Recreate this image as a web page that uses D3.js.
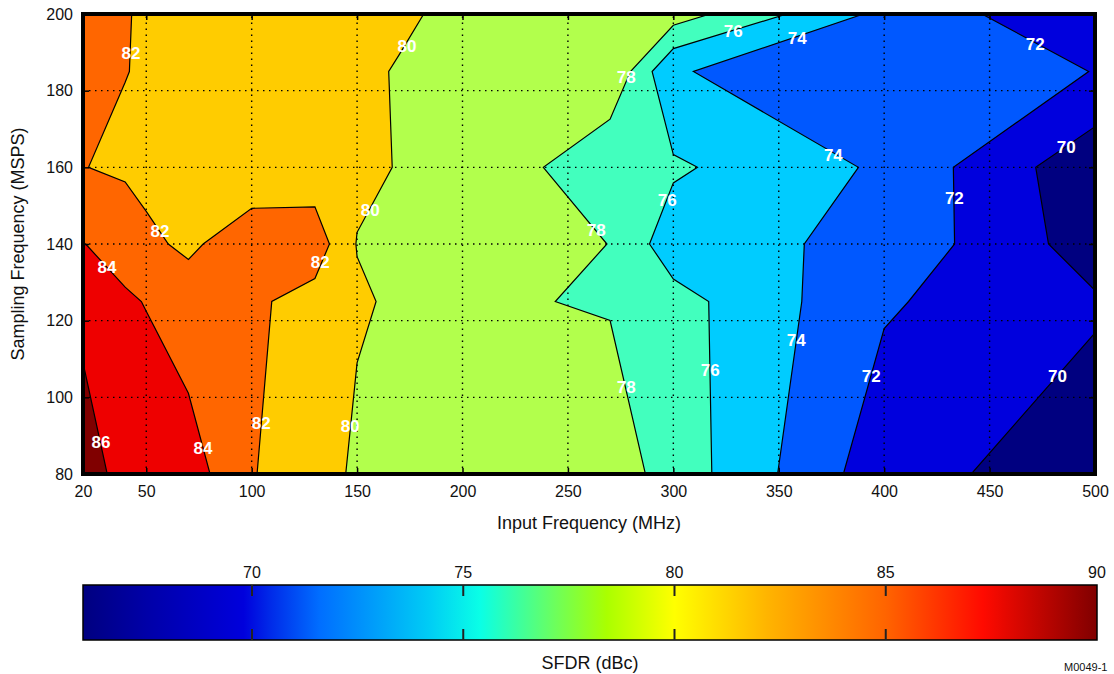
<!DOCTYPE html>
<html>
<head>
<meta charset="UTF-8">
<title>SFDR vs input frequency and sampling frequency</title>
<style>
  body { margin: 0; background: #fff; }
  svg text { font-family: Arial, "Liberation Sans", Helvetica, sans-serif; fill: #111; }
  .clabel { font-size: 17px; font-weight: bold; fill: #fff; text-anchor: middle; }
  .grid line { stroke: #000; stroke-width: 1.4; stroke-dasharray: 1.5 4.5; }
</style>
</head>
<body>
<svg id="chart" width="1114" height="674"></svg>
<script src="https://cdn.jsdelivr.net/npm/d3@7"></script>
<script>
// measurement grid
var inputFreq  = [20, 40, 50, 70, 100, 130, 150, 170, 230, 270, 300, 400, 500];   // MHz
var sampleRate = [80, 125, 140, 160, 185, 200];                                   // MSPS

// SFDR (dBc): one row per sampling rate, one column per input frequency
var sfdr = [
  [87.00, 85.26, 84.50, 85.02, 82.04, 81.57, 79.42, 79.30, 79.20, 79.05, 77.17, 70.76, 68.92], //  80
  [85.45, 84.10, 83.97, 82.84, 82.34, 81.27, 80.32, 79.61, 78.07, 77.87, 76.76, 72.23, 70.24], // 125
  [84.02, 83.70, 82.34, 81.69, 83.02, 83.10, 79.91, 79.70, 79.30, 77.95, 74.82, 73.50, 69.01], // 140
  [82.06, 81.60, 81.54, 81.30, 80.83, 80.83, 80.50, 79.90, 78.50, 76.10, 76.30, 73.68, 68.56], // 160
  [82.80, 82.05, 81.80, 81.20, 81.00, 80.80, 80.30, 79.90, 79.60, 79.88, 74.04, 73.62, 71.95], // 185
  [82.80, 82.30, 81.33, 81.00, 80.90, 80.80, 80.80, 80.24, 79.00, 79.00, 78.96, 73.46, 70.31]  // 200
];

var levels = [70, 72, 74, 76, 78, 80, 82, 84, 86];
var xTicks = [20, 50, 100, 150, 200, 250, 300, 350, 400, 450, 500];
var yTicks = [80, 100, 120, 140, 160, 180, 200];
var cbarDomain = [66, 90];
var cbarTicks = [70, 75, 80, 85, 90];

// contour labels: [MHz, MSPS, level]
var labels = [
  [42.8, 189.8, 82], [173.7, 191.7, 80], [277.7, 183.6, 78], [328.4, 195.6, 76],
  [358.8, 193.7, 74], [471.7, 192.2, 72], [486.4, 165.3, 70], [375.9, 163.2, 74],
  [433.3, 152.0, 72], [297.1, 151.5, 76], [263.4, 143.6, 78], [156.2, 148.9, 80],
  [56.5, 143.4, 82], [132.5, 135.3, 82], [31.4, 134.0, 84], [146.7, 92.5, 80],
  [104.5, 93.3, 82], [76.9, 86.8, 84], [28.5, 88.3, 86], [277.7, 102.7, 78],
  [317.5, 107.1, 76], [358.3, 115.0, 74], [393.9, 105.6, 72], [482.2, 105.6, 70]
];

// colours of the filled bands (below 70, 70-72, ... , above 86)
var bandColors = ["#000080", "#0000DD", "#0058FF", "#00CCFF", "#42FFBE",
                  "#B2FF4C", "#FFCC00", "#FF6600", "#EE0000", "#800000"];
var cbarStops = [[66, "#000080"], [67.5, "#0000A8"], [69.8, "#0000DC"], [70.4, "#0028E8"],
                 [71.6, "#006EFF"], [74.2, "#00CDF5"], [75.4, "#0AFFE6"], [77.2, "#6EFF5A"],
                 [78.4, "#AAFF00"], [80, "#FFFF00"], [82.2, "#FFB400"], [85, "#FF6400"],
                 [87.3, "#FF0A00"], [90, "#800000"]];

var svg = d3.select("#chart");
var x = d3.scaleLinear().domain([20, 500]).range([83, 1095]);
var y = d3.scaleLinear().domain([80, 200]).range([474, 14]);

// grid index -> data value (samples sit at index + 0.5 in d3.contours)
var col = d3.scaleLinear().domain(inputFreq.map((d, i) => i + 0.5)).range(inputFreq).clamp(true);
var row = d3.scaleLinear().domain(sampleRate.map((d, i) => i + 0.5)).range(sampleRate).clamp(true);
var path = d3.geoPath(d3.geoTransform({
  point: function(px, py) { this.stream.point(x(col(px)), y(row(py))); }
}));

var values = sfdr.flat();
var contours = d3.contours()
    .size([inputFreq.length, sampleRate.length])
    .thresholds([d3.min(values)].concat(levels))(values);

svg.append("clipPath").attr("id", "plot-clip")
  .append("rect").attr("x", x(20)).attr("y", y(200))
  .attr("width", x(500) - x(20)).attr("height", y(80) - y(200));

var plot = svg.append("g").attr("clip-path", "url(#plot-clip)");
plot.append("g").selectAll("path").data(contours).join("path")
    .attr("d", path).attr("fill", (d, i) => bandColors[i]);
plot.append("g").selectAll("path").data(contours.slice(1)).join("path")
    .attr("d", path).attr("fill", "none").attr("stroke", "#000").attr("stroke-width", 1.2);

// dotted grid
var grid = svg.append("g").attr("class", "grid");
grid.selectAll(".gx").data(xTicks.slice(1, -1)).join("line").attr("class", "gx")
    .attr("x1", d => x(d)).attr("x2", d => x(d)).attr("y1", y(80)).attr("y2", y(200));
grid.selectAll(".gy").data(yTicks.slice(1, -1)).join("line").attr("class", "gy")
    .attr("y1", d => y(d)).attr("y2", d => y(d)).attr("x1", x(20)).attr("x2", x(500));

// axes with inward ticks
function styleAxis(g) {
  g.select(".domain").remove();
  g.selectAll(".tick line").attr("stroke", "#000").attr("stroke-width", 1.5);
  g.attr("font-size", 16).attr("font-family", null);
}
svg.append("g").attr("transform", "translate(0," + y(80) + ")")
  .call(d3.axisBottom(x).tickValues(xTicks).tickSizeInner(-6).tickSizeOuter(0).tickPadding(12))
  .call(styleAxis);
svg.append("g").attr("transform", "translate(0," + y(200) + ")")
  .call(d3.axisTop(x).tickValues(xTicks).tickSizeInner(-6).tickSizeOuter(0).tickFormat(""))
  .call(styleAxis);
svg.append("g").attr("transform", "translate(" + x(20) + ",0)")
  .call(d3.axisLeft(y).tickValues(yTicks).tickSizeInner(-6).tickSizeOuter(0).tickPadding(10))
  .call(styleAxis);
svg.append("g").attr("transform", "translate(" + x(500) + ",0)")
  .call(d3.axisRight(y).tickValues(yTicks).tickSizeInner(-6).tickSizeOuter(0).tickFormat(""))
  .call(styleAxis);

svg.append("rect").attr("x", x(20)).attr("y", y(200))
  .attr("width", x(500) - x(20)).attr("height", y(80) - y(200))
  .attr("fill", "none").attr("stroke", "#000").attr("stroke-width", 4);

// contour labels
svg.append("g").selectAll("text").data(labels).join("text")
  .attr("class", "clabel")
  .attr("x", d => x(d[0])).attr("y", d => y(d[1])).attr("dy", "0.35em")
  .text(d => d[2]);

// axis titles
svg.append("text").attr("x", (x(20) + x(500)) / 2).attr("y", 529)
  .attr("text-anchor", "middle").attr("font-size", 18).text("Input Frequency (MHz)");
svg.append("text").attr("transform", "translate(18," + (y(80) + y(200)) / 2 + ") rotate(-90)")
  .attr("text-anchor", "middle").attr("dy", "0.35em").attr("font-size", 18)
  .text("Sampling Frequency (MSPS)");

// colour bar
var c = d3.scaleLinear().domain(cbarDomain).range([83, 1097]);
var grad = svg.append("defs").append("linearGradient").attr("id", "jet");
grad.selectAll("stop").data(cbarStops).join("stop")
  .attr("offset", d => (d[0] - cbarDomain[0]) / (cbarDomain[1] - cbarDomain[0]))
  .attr("stop-color", d => d[1]);
svg.append("rect").attr("x", c(66)).attr("y", 585).attr("width", c(90) - c(66)).attr("height", 55)
  .attr("fill", "url(#jet)").attr("stroke", "#000").attr("stroke-width", 1.5);
var cb = svg.append("g");
cb.selectAll(".t1").data(cbarTicks.slice(0, -1)).join("line").attr("class", "t1")
  .attr("x1", d => c(d)).attr("x2", d => c(d)).attr("y1", 585).attr("y2", 596)
  .attr("stroke", "#222").attr("stroke-width", 2);
cb.selectAll(".t2").data(cbarTicks.slice(0, -1)).join("line").attr("class", "t2")
  .attr("x1", d => c(d)).attr("x2", d => c(d)).attr("y1", 629).attr("y2", 640)
  .attr("stroke", "#222").attr("stroke-width", 2);
cb.selectAll("text").data(cbarTicks).join("text")
  .attr("x", d => c(d)).attr("y", 578).attr("text-anchor", "middle").attr("font-size", 16)
  .text(d => d);
svg.append("text").attr("x", (c(66) + c(90)) / 2).attr("y", 669)
  .attr("text-anchor", "middle").attr("font-size", 18).text("SFDR (dBc)");

svg.append("text").attr("x", 1064).attr("y", 671).attr("font-size", 11).attr("fill", "#333")
  .text("M0049-1");
</script>
</body>
</html>
